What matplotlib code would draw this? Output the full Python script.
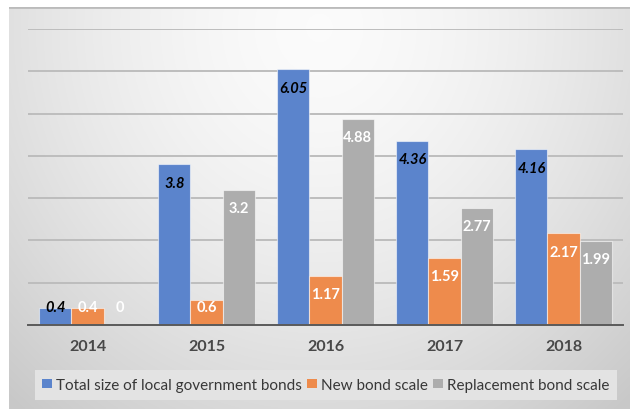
import numpy as np
import matplotlib
matplotlib.use('Agg')
import matplotlib.pyplot as plt
from matplotlib.patches import Patch

years = ['2014', '2015', '2016', '2017', '2018']
total_size = [0.4, 3.8, 6.05, 4.36, 4.16]
new_bond = [0.4, 0.6, 1.17, 1.59, 2.17]
replacement = [0, 3.2, 4.88, 2.77, 1.99]
series_names = ['Total size of local government bonds', 'New bond scale',
                'Replacement bond scale']
series_values = [total_size, new_bond, replacement]
colors = ['#5B84CC', '#EE8B4C', '#ADADAD']
label_colors = ['black', 'white', 'white']
label_styles = ['italic', 'normal', 'normal']

plt.rcParams['font.family'] = ['Lato', 'DejaVu Sans']

W, H = 630, 410
fig = plt.figure(figsize=(W / 100, H / 100), dpi=100)
fig.patch.set_facecolor('white')

# background panel with soft radial gradient
bg = fig.add_axes([9 / W, 0, 621 / W, 402 / H])
gy, gx = np.mgrid[0:1:200j, 0:1:300j]
r = np.sqrt(((gx - 0.5) / 0.75) ** 2 + ((gy - 0.05) / 1.25) ** 2)
val = 0.985 - 0.20 * np.clip(r, 0, 1) ** 1.6
bg.imshow(np.dstack([val, val, val]), aspect='auto', extent=[0, 1, 0, 1],
          origin='upper', interpolation='bilinear')
bg.plot([0, 1], [1, 1], color='#BBBBBB', lw=2, transform=bg.transAxes)
bg.set_xlim(0, 1)
bg.set_ylim(0, 1)
bg.axis('off')

ax = fig.add_axes([28 / W, 84 / H, 595 / W, 296 / H])
ax.set_facecolor('none')
x = np.arange(len(years))
bw = 0.27
for i, (vals, c) in enumerate(zip(series_values, colors)):
    pos = x + (i - 1) * bw
    ax.bar(pos, vals, width=bw, color=c, edgecolor=(1, 1, 1, 0.55),
           linewidth=0.8, zorder=3, label=series_names[i])
    for p, v in zip(pos, vals):
        ty = max(v - 0.44, 0.43)
        ax.text(p, ty, f'{v:g}', ha='center', va='center', fontsize=10.5,
                fontweight='bold', style=label_styles[i],
                color=label_colors[i], zorder=4)

ax.set_xlim(-0.5, len(years) - 0.5)
ax.set_ylim(0, 7)
ax.set_yticks(np.arange(1, 8))
ax.yaxis.grid(True, color='#BDBDBD', lw=1.4, zorder=0)
ax.tick_params(axis='y', left=False, labelleft=False)
ax.set_xticks(x)
ax.set_xticklabels(years, fontsize=11.5, fontweight='bold', color='#484848')
ax.tick_params(axis='x', length=0, pad=10)
for s in ['top', 'right', 'left']:
    ax.spines[s].set_visible(False)
ax.spines['bottom'].set_color('#5A5A5A')
ax.spines['bottom'].set_linewidth(1.4)
ax.spines['bottom'].set_zorder(5)

handles = [Patch(facecolor=c, edgecolor='none') for c in colors]
leg = fig.legend(handles, series_names, loc='center',
                 bbox_to_anchor=(326 / W, 24 / H), ncol=3, frameon=True,
                 fancybox=False, facecolor='#E3E3E3', edgecolor='none',
                 framealpha=1, fontsize=11, handlelength=0.6, handleheight=0.6,
                 handletextpad=0.3, columnspacing=0.35, borderpad=0.5,
                 borderaxespad=0, labelcolor='#383838')

fig.savefig('out.png', dpi=100)
